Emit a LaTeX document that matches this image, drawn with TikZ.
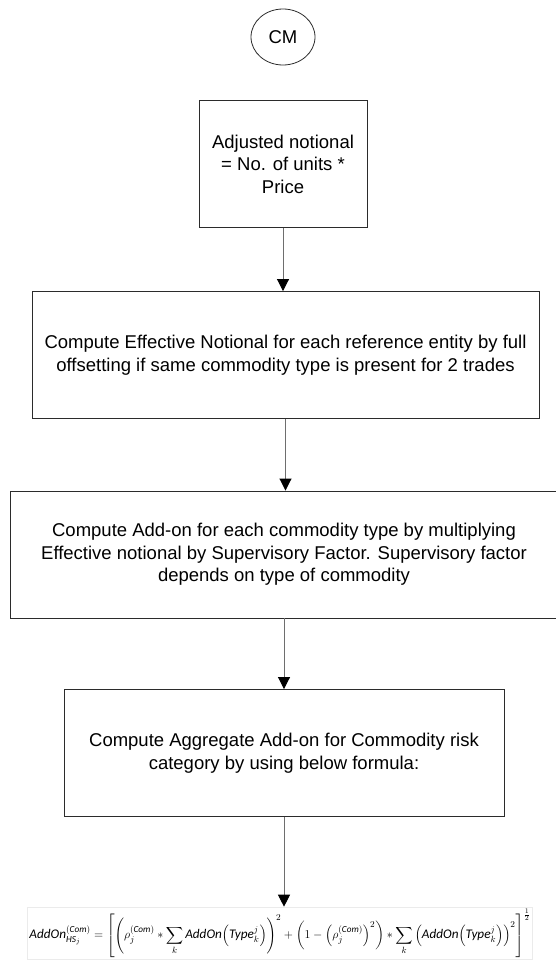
\documentclass[tikz,border=0pt]{standalone}
\usepackage{amsmath}
\usepackage{fontspec}
\setmainfont{Liberation Sans}
\newfontfamily\calib{Carlito}
\definecolor{boxDark}{HTML}{2B2B2B}
\definecolor{lineGray}{HTML}{6E6E6E}
\newcommand{\ci}[1]{\text{\calib\itshape #1}}
\usetikzlibrary{positioning,arrows.meta,shapes.geometric}

\begin{document}
\begin{tikzpicture}[x=1pt, y=-1pt, font=\fontsize{18.5}{22.5}\selectfont,
  flowbox/.style={draw=boxDark, line width=0.9pt, minimum height=127pt, align=center, inner sep=0pt},
  flowarrow/.style={-{Triangle[width=12pt,length=12pt,black]}, draw=lineGray, line width=0.9pt}]
\useasboundingbox (0,0) rectangle (556,969);
\node[draw=boxDark, line width=0.8pt, ellipse, minimum width=64pt, minimum height=56pt, inner sep=0pt] (cm) at (283,37) {CM};
\node[flowbox, minimum width=168pt] (adj) at (283,164) {Adjusted notional\\= No. of units *\\Price};
\node[flowbox, minimum width=507pt] (eff) at (285.5,355) {Compute Effective Notional for each reference entity by full\\offsetting if same commodity type is present for 2 trades};
\node[flowbox, minimum width=548pt] (addon) at (284,554.5) {Compute Add-on for each commodity type by multiplying\\Effective notional by Supervisory Factor. Supervisory factor\\depends on type of commodity};
\node[flowbox, minimum width=440pt] (agg) at (284,753) {Compute Aggregate Add-on for Commodity risk\\category by using below formula:};
\node[draw=black!8, inner sep=2pt, font=\fontsize{13.2}{15.5}\selectfont] (formula) at (280,933) {$\displaystyle \ci{AddOn}^{(\ci{Com})}_{\ci{HS}_j} = \left[\left(\rho_j^{(\ci{Com})} * \sum_k \ci{AddOn}\!\left(\ci{Type}_k^j\right)\right)^2 + \left(1-\left(\rho_j^{(\ci{Com})}\right)^2\right) * \sum_k \left(\ci{AddOn}\!\left(\ci{Type}_k^j\right)\right)^2\right]^{\frac12}$};
\draw[flowarrow] (adj.south) -- (adj.south |- eff.north);
\draw[flowarrow] (eff.south) -- (eff.south |- addon.north);
\draw[flowarrow] (addon.south) -- (agg.north);
\draw[flowarrow] (agg.south) -- (agg.south |- formula.north);
\end{tikzpicture}
\end{document}
